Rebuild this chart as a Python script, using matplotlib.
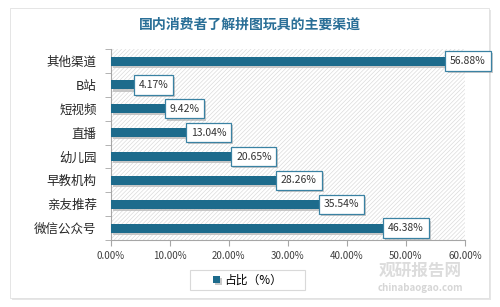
import matplotlib.pyplot as plt
from matplotlib.patches import Rectangle, FancyBboxPatch
import matplotlib.patheffects as pe

plt.rcParams['font.family'] = ['Noto Sans CJK SC', 'DejaVu Sans']
plt.rcParams['hatch.linewidth'] = 0.5

# data (top to bottom as in the picture)
categories = ['其他渠道', 'B站', '短视频', '直播', '幼儿园', '早教机构', '亲友推荐', '微信公众号']
values = [56.88, 4.17, 9.42, 13.04, 20.65, 28.26, 35.54, 46.38]
xticks = [0, 10, 20, 30, 40, 50, 60]

bar_color = '#1d6b8c'
title_color = '#2a6f97'

fig = plt.figure(figsize=(5, 3.07), dpi=100, facecolor='white')

# card with soft shadow
shadow = FancyBboxPatch((0.024, 0.022), 0.958, 0.946, boxstyle='square,pad=0',
                        transform=fig.transFigure, fc='#e6e6e6', ec='none', zorder=-2)
card = FancyBboxPatch((0.02, 0.028), 0.958, 0.946, boxstyle='square,pad=0',
                      transform=fig.transFigure, fc='white', ec='#e0e0e0', lw=0.6, zorder=-1)
fig.patches.extend([shadow, card])

ax = fig.add_axes([0.221, 0.218, 0.709, 0.622])
ax.set_facecolor('none')

ypos = list(range(len(categories)))[::-1]
ax.add_patch(Rectangle((0, 0), 1, 1, transform=ax.transAxes, fill=False,
                       hatch='////////', ec='#dcdcdc', lw=0, zorder=0))

bars = ax.barh(ypos, values, height=0.38, color=bar_color, zorder=3,
               label='占比（%）')
for b in bars:
    b.set_path_effects([pe.SimplePatchShadow(offset=(1.5, -1.5), shadow_rgbFace='#bbbbbb', alpha=0.8),
                        pe.Normal()])

for y, v in zip(ypos, values):
    t = ax.text(v + 0.6, y, f'{v:.2f}%', va='center', ha='left', fontsize=7.5, color='#333333',
                zorder=5,
                bbox=dict(boxstyle='square,pad=0.45', fc='white', ec='#3a82a3', lw=0.9))
    t.get_bbox_patch().set_path_effects([pe.SimplePatchShadow(offset=(1.5, -1.5), shadow_rgbFace='#aaaaaa', alpha=0.6),
                                         pe.Normal()])

ax.set_xlim(0, 60)
ax.set_ylim(-0.5, len(categories) - 0.5)
ax.set_xticks(xticks)
ax.set_xticklabels([f'{x:.2f}%' for x in xticks], fontsize=7, color='#404040')
ax.set_yticks(ypos)
ax.set_yticklabels(categories, fontsize=9, color='#262626')
ax.set_yticks([y + 0.5 for y in ypos] + [-0.5], minor=True)
ax.tick_params(axis='y', which='major', length=0, pad=10)
ax.tick_params(axis='y', which='minor', length=4, color='#a6a6a6')
ax.tick_params(axis='x', length=4, color='#a6a6a6', pad=4)
for s in ['top', 'right']:
    ax.spines[s].set_visible(False)
for s in ['left', 'bottom']:
    ax.spines[s].set_color('#a6a6a6')
    ax.spines[s].set_linewidth(0.8)

fig.text(0.5, 0.918, '国内消费者了解拼图玩具的主要渠道', ha='center', va='center',
         fontsize=10, color=title_color, fontweight='bold')

# legend: box drawn by hand, entry from the library
fig.patches.append(Rectangle((0.38, 0.055), 0.23, 0.065, transform=fig.transFigure,
                             fc='white', ec='#d9d9d9', lw=0.8, zorder=1))
leg = fig.legend(handles=[bars], labels=['占比（%）'], loc='center', bbox_to_anchor=(0.495, 0.088),
                 fontsize=8.5, frameon=False, handlelength=0.6, handleheight=0.6,
                 handletextpad=0.4, borderaxespad=0)

# watermark
fig.text(0.84, 0.118, '观研报告网', ha='center', va='center', fontsize=12, color='#d4d4d4',
         fontweight='bold', alpha=0.8, zorder=10)
fig.text(0.84, 0.062, 'chinabaogao.com', ha='center', va='center', fontsize=7,
         color='#cccccc', fontweight='bold', alpha=0.8, zorder=10)

fig.savefig('out.png', dpi=100, facecolor='white')
